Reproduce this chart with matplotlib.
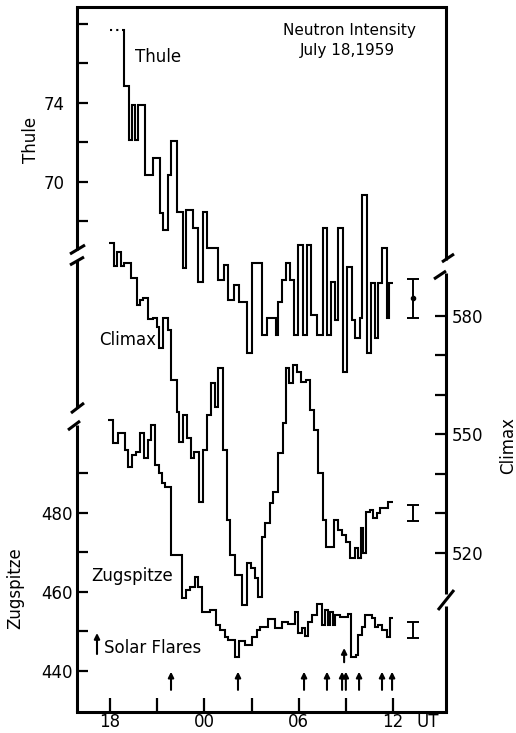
import matplotlib
matplotlib.use("Agg")
import matplotlib.pyplot as plt
from matplotlib.lines import Line2D
from matplotlib.patches import FancyArrowPatch

# time axis: hours from 00 UT July 18 (24 = 00 UT July 19)
thule_edges = [18.75, 18.89, 19.21, 19.40, 19.59, 19.78, 20.23, 20.74, 21.18, 21.37,
               21.69, 21.88, 22.26, 22.64, 22.83, 23.28, 23.60, 23.92, 24.17, 24.87,
               25.25, 25.51, 25.89, 26.21, 26.72, 27.03, 27.67, 27.99, 28.56, 28.69,
               28.94, 29.20, 29.45, 29.70, 29.96, 30.28, 30.53, 30.79, 31.17, 31.55,
               31.80, 32.06, 32.31, 32.50, 32.82, 33.08, 33.39, 33.59, 33.90, 34.03,
               34.35, 34.60, 34.86, 35.05, 35.30, 35.62, 35.75, 36.00]
thule_counts = [77.7, 74.86, 72.13, 73.90, 72.13, 73.90, 70.35, 71.22, 68.43, 67.57,
                70.35, 72.08, 68.48, 65.65, 68.58, 67.67, 64.94, 68.48, 66.66, 65.04,
                65.80, 64.03, 64.78, 63.92, 61.34, 65.90, 62.25, 63.11, 62.25, 63.92,
                65.04, 65.90, 65.04, 62.25, 66.81, 62.25, 66.81, 63.27, 62.25, 67.67,
                62.25, 64.94, 63.01, 67.67, 60.38, 65.70, 63.01, 62.10, 63.11, 69.34,
                61.34, 64.89, 62.10, 64.89, 66.66, 63.11, 64.89]
thule_start = 18.0

climax_edges = [17.94, 18.25, 18.45, 18.70, 18.89, 19.34, 19.72, 19.91, 20.10, 20.42,
                20.74, 20.99, 21.12, 21.37, 21.69, 21.88, 22.26, 22.39, 22.64, 22.90,
                23.15, 23.34, 23.66, 23.92, 24.17, 24.43, 24.68, 24.87, 25.19, 25.44,
                25.63, 25.95, 26.40, 26.72, 26.97, 27.22, 27.41, 27.67, 27.86, 28.18,
                28.37, 28.69, 29.01, 29.20, 29.39, 29.64, 29.90, 30.15, 30.47, 30.72,
                30.98, 31.23, 31.55, 31.74, 32.25, 32.50, 32.76, 33.01, 33.27, 33.59,
                33.78, 33.97, 34.09, 34.29, 34.54, 34.73, 34.99, 35.18, 35.68, 36.00]
climax_counts = [598.5, 592.7, 596.2, 592.7, 593.4, 589.6, 582.8, 584.1, 584.6, 579.2,
                 579.5, 577.2, 571.9, 579.5, 576.5, 563.8, 555.7, 548.1, 554.9, 549.1,
                 544.1, 545.6, 532.9, 546.1, 554.9, 563.0, 557.0, 566.8, 546.1, 528.4,
                 519.5, 514.4, 506.8, 517.5, 516.2, 513.7, 508.9, 524.1, 527.6, 532.7,
                 535.4, 545.3, 552.9, 566.8, 563.0, 567.6, 565.8, 563.3, 563.8, 556.2,
                 551.1, 540.3, 528.4, 521.5, 528.4, 525.8, 524.6, 522.8, 518.7, 521.3,
                 518.7, 526.3, 520.0, 530.4, 530.9, 528.9, 530.1, 531.4, 532.9]

zug_edges = [17.87, 18.19, 18.51, 18.95, 19.15, 19.40, 19.65, 19.91, 20.16, 20.42,
             20.61, 20.86, 21.12, 21.31, 21.50, 21.88, 22.58, 22.83, 23.09, 23.41,
             23.60, 23.85, 24.36, 24.74, 25.00, 25.32, 25.51, 25.95, 26.21, 26.59,
             27.03, 27.35, 27.54, 28.05, 28.50, 28.94, 29.32, 29.77, 29.96, 30.21,
             30.40, 30.60, 30.85, 31.17, 31.49, 31.68, 31.87, 31.99, 32.19, 32.31,
             32.63, 33.14, 33.33, 33.65, 33.78, 34.03, 34.22, 34.67, 34.86, 35.05,
             35.30, 35.62, 35.81, 36.00]
zug_counts = [503.5, 497.7, 500.3, 496.0, 491.6, 494.7, 495.4, 500.3, 493.9, 498.5,
              502.3, 492.2, 490.1, 487.6, 486.6, 469.4, 458.5, 460.5, 461.3, 463.8,
              461.3, 454.9, 455.4, 451.6, 450.4, 448.6, 447.8, 443.5, 447.6, 446.5,
              448.6, 450.4, 451.1, 453.2, 450.9, 452.4, 451.9, 454.9, 449.6, 450.9,
              448.9, 452.4, 454.2, 457.0, 451.6, 455.4, 451.6, 454.9, 451.6, 454.2,
              453.7, 454.4, 443.5, 444.1, 449.1, 451.1, 454.2, 453.4, 451.1, 451.6,
              450.4, 448.6, 453.4]

flare_times = [21.88, 26.14, 30.34, 31.80, 32.76, 33.00, 33.84, 35.30, 35.94]
big_flare_time = 32.89

err_time = 37.27
thule_err = (64.1, 1.0)
climax_err = (530.1, 2.0)
zug_err = (450.4, 2.0)

hour_ticks = [18, 21, 24, 27, 30, 33, 36]
hour_labels = ["18", "", "00", "", "06", "", "12"]
thule_ticks = [68, 70, 72, 74, 76, 78]
thule_labels = ["", "70", "", "74", "", ""]
climax_ticks = [520, 530, 540, 550, 560, 570, 580]
climax_labels = ["520", "", "", "550", "", "", "580"]
zug_ticks = [440, 450, 460, 470, 480, 490]
zug_labels = ["440", "", "460", "", "480", ""]

plt.rcParams["font.family"] = "DejaVu Sans"

W, H = 516, 733
L, R, T, B = 77, 446, 7, 712


def fx(px):
    return px / W


def fy(py):
    return 1 - py / H


fig = plt.figure(figsize=(W / 100, H / 100), dpi=100)
rect = [fx(L), fy(B), (R - L) / W, (B - T) / H]

ax = fig.add_axes(rect)                      # Zugspitze (left, bottom part)
ax_th = fig.add_axes(rect, sharex=ax)        # Thule (left, top part)
ax_th.patch.set_visible(False)
ax_cl = ax.twinx()                           # Climax (right)

ax.set_xlim(15.90, 39.37)
ax.set_ylim(429.6, 608.1)
ax_th.set_ylim(43.16, 78.86)
ax_cl.set_ylim(479.75, 658.2)

lw_frame = 2.2
for a in (ax, ax_th, ax_cl):
    a.spines["left"].set_visible(False)
    a.spines["right"].set_visible(False)
for a in (ax_th, ax_cl):
    a.spines["top"].set_visible(False)
    a.spines["bottom"].set_visible(False)
ax.spines["top"].set_linewidth(lw_frame)
ax.spines["bottom"].set_linewidth(lw_frame)

# ticks
ax.set_xticks(hour_ticks, hour_labels)
ax.tick_params(axis="x", direction="in", length=10, width=1.6, labelsize=12, pad=0.5)
ax.set_yticks(zug_ticks, zug_labels)
ax.tick_params(axis="y", direction="in", length=8, width=1.6, labelsize=12, pad=3)
ax_th.tick_params(axis="x", bottom=False, labelbottom=False)
ax_th.set_yticks(thule_ticks, thule_labels)
ax_th.tick_params(axis="y", direction="in", length=8, width=1.6, labelsize=12, pad=9)
ax_cl.set_yticks(climax_ticks, climax_labels)
ax_cl.tick_params(axis="y", direction="in", length=8, width=1.6, labelsize=12, pad=4)

# the three step records
line_kw = dict(color="black", lw=1.5, baseline=None)
ax_th.stairs(thule_counts, thule_edges, **line_kw)
ax_th.plot([thule_start, thule_edges[0]], [thule_counts[0]] * 2,
           color="black", lw=1.5, ls=(0, (1, 2)))
ax_cl.stairs(climax_counts, climax_edges, **line_kw)
ax.stairs(zug_counts, zug_edges, **line_kw)

# statistical errors
ax_th.errorbar(err_time, thule_err[0], yerr=thule_err[1], fmt="o", ms=3,
               color="black", capsize=4, elinewidth=1.4, capthick=1.4)
ax_cl.errorbar(err_time, climax_err[0], yerr=climax_err[1], fmt="none",
               color="black", capsize=4, elinewidth=1.4, capthick=1.4)
ax.errorbar(err_time, zug_err[0], yerr=zug_err[1], fmt="none",
            color="black", capsize=4, elinewidth=1.4, capthick=1.4)

# solar flare arrows
arrow_kw = dict(arrowstyle="-|>", color="black", lw=1.5, mutation_scale=8,
                shrinkA=0, shrinkB=0)
for t in flare_times:
    ax.annotate("", xy=(t, 439.8), xytext=(t, 435.2), arrowprops=arrow_kw)
ax.annotate("", xy=(big_flare_time, 445.8), xytext=(big_flare_time, 442.2),
            arrowprops=arrow_kw)
fig.add_artist(FancyArrowPatch((fx(97), fy(654)), (fx(97), fy(633)),
                               transform=fig.transFigure, **arrow_kw))

# broken side axes
seg_kw = dict(transform=fig.transFigure, color="black", lw=lw_frame,
              solid_capstyle="butt")
for top, bot in [(T, 250), (260, 408), (425, B)]:
    fig.add_artist(Line2D([fx(L), fx(L)], [fy(top), fy(bot)], **seg_kw))
for top, bot in [(T, 260), (273, 594), (606, B)]:
    fig.add_artist(Line2D([fx(R), fx(R)], [fy(top), fy(bot)], **seg_kw))
for x0, y0, x1, y1 in [(70, 254, 85, 245), (70, 265, 84, 257),
                       (71, 413, 84, 403), (68, 430, 80, 421),
                       (442, 262, 454, 254), (434, 279, 446, 271),
                       (438, 610, 454, 590)]:
    fig.add_artist(Line2D([fx(x0), fx(x1)], [fy(y0), fy(y1)], **seg_kw))

# labels
txt = dict(fontsize=12, color="black")
fig.text(fx(31), fy(140), "Thule", rotation=90, ha="center", va="center", **txt)
fig.text(fx(15), fy(588), "Zugspitze", rotation=90, ha="center", va="center", **txt)
fig.text(fx(508), fy(445), "Climax", rotation=90, ha="center", va="center", **txt)
fig.text(fx(428), fy(722), "UT", ha="center", va="center", **txt)

fig.text(fx(158), fy(57), "Thule", ha="center", va="center", **txt)
fig.text(fx(128), fy(340), "Climax", ha="center", va="center", **txt)
fig.text(fx(132), fy(576), "Zugspitze", ha="center", va="center", **txt)
fig.text(fx(104), fy(648), "Solar Flares", ha="left", va="center", **txt)
fig.text(fx(349), fy(30), "Neutron Intensity", ha="center", va="center", fontsize=11)
fig.text(fx(347), fy(50), "July 18,1959", ha="center", va="center", fontsize=11)

fig.savefig("out.png", dpi=100)
